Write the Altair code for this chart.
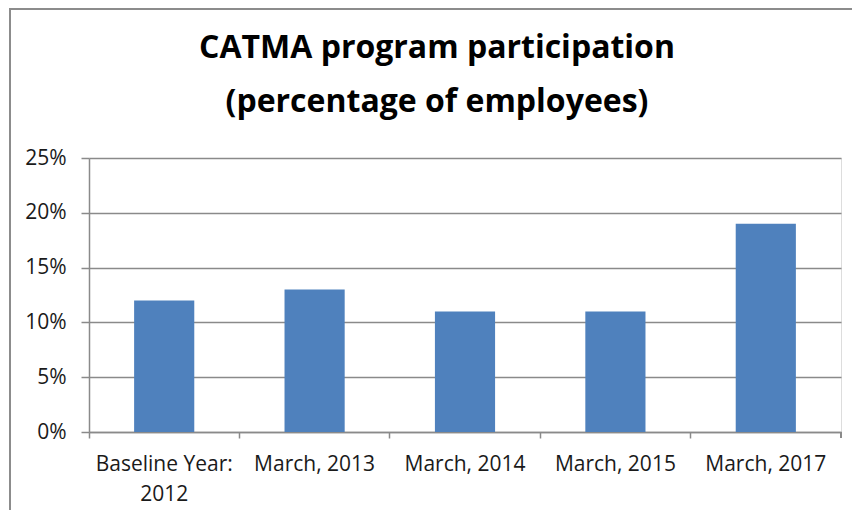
import altair as alt
import pandas as pd

categories = ["Baseline Year: 2012", "March, 2013", "March, 2014", "March, 2015", "March, 2017"]
values = [0.12, 0.13, 0.11, 0.11, 0.19]
title_lines = ["CATMA program participation", "(percentage of employees)"]

df = pd.DataFrame({"cat": categories, "val": values})
title_df = pd.DataFrame({"t": ["\n".join(title_lines)]})

W, H = 752, 274
GRID = "#8a8a8a"
FONT = "Open Sans"
LABEL_SIZE = 21

base = alt.Chart(df)

bars = base.mark_bar(color="#4F81BD", width=alt.RelativeBandSize(0.4)).encode(
    x=alt.X(
        "cat:N",
        sort=categories,
        title=None,
        scale=alt.Scale(paddingInner=0, paddingOuter=0),
        axis=alt.Axis(
            bandPosition=0,
            labelAngle=0,
            labelFont=FONT,
            labelFontSize=LABEL_SIZE,
            labelColor="#1a1a1a",
            labelLineHeight=30,
            labelPadding=15,
            labelBaseline="top",
            tickSize=6,
            tickColor=GRID,
            tickWidth=1.5,
            domainColor=GRID,
            domainWidth=1.5,
            grid=False,
            labelExpr="datum.label == 'Baseline Year: 2012' ? ['Baseline Year:', '2012'] : datum.label",
        ),
    ),
    y=alt.Y(
        "val:Q",
        title=None,
        scale=alt.Scale(domain=[0, 0.25], nice=False),
        axis=alt.Axis(
            format=".0%",
            values=[0, 0.05, 0.10, 0.15, 0.20, 0.25],
            labelFont=FONT,
            labelFontSize=LABEL_SIZE,
            labelColor="#1a1a1a",
            labelPadding=15,
            tickSize=8,
            tickColor=GRID,
            tickWidth=1.5,
            domainColor=GRID,
            domainWidth=1.5,
            gridColor=GRID,
            gridWidth=1.5,
        ),
    ),
)

end_tick = base.mark_rule(color=GRID, strokeWidth=1.5).encode(
    x=alt.value(W), y=alt.value(H), y2=alt.value(H + 6)
)

frame = base.mark_rect(fill=None, stroke="#8c8c8c", strokeWidth=2, clip=False).encode(
    x=alt.value(-79), x2=alt.value(790), y=alt.value(-149), y2=alt.value(400)
)

title = alt.Chart(title_df).mark_text(
    font=FONT,
    fontSize=32,
    fontWeight="bold",
    color="#000000",
    lineBreak="\n",
    lineHeight=54,
    align="center",
    baseline="alphabetic",
).encode(
    text="t:N",
    x=alt.value(348),
    y=alt.value(-100),
)

chart = alt.layer(frame, bars, end_tick, title).properties(
    width=W,
    height=H,
    autosize=alt.AutoSizeParams(type="none"),
    padding={"left": 81, "top": 150, "right": 11, "bottom": 78},
).configure_view(stroke=None).configure(background="white")

chart.save("out.html", embed_options={"renderer": "svg", "actions": False})
